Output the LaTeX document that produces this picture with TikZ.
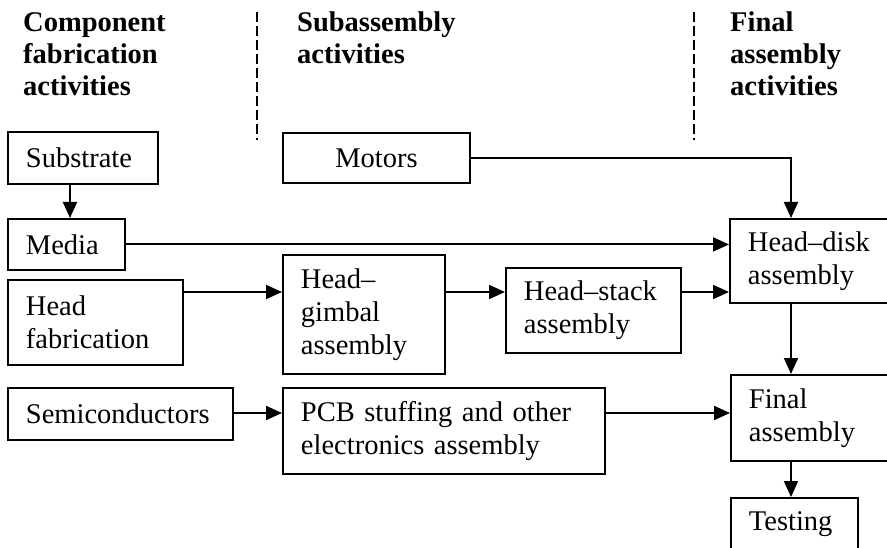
\documentclass[tikz,border=0pt]{standalone}
\usepackage{fontspec}
\setmainfont{Liberation Serif}
\usetikzlibrary{arrows.meta}
\begin{document}
\begin{tikzpicture}[x=1pt,y=-1pt,
  box/.style={draw, line width=1.9pt, rectangle, inner xsep=18pt, inner ysep=0pt,
    align=left, font=\fontsize{28.5}{33}\selectfont, anchor=north west},
  head/.style={inner sep=0pt, align=left, anchor=north west,
    font=\fontsize{28.5}{32}\selectfont\bfseries},
  arr/.style={line width=1.9pt, -{Triangle[length=16pt,width=14pt]}},
  sep/.style={line width=1.3pt, dash pattern=on 10pt off 4pt}]
\useasboundingbox (0,0) rectangle (887,548);
\clip (0,0) rectangle (887,548);
% headers
\node[head] (h1) at (23,12) {Component\\fabrication\\activities};
\node[head] (h2) at (297,12) {Subassembly\\activities};
\node[head] (h3) at (730,12) {Final\\assembly\\activities};
\draw[sep] (257,12) -- (257,140);
\draw[sep] (694,12) -- (694,140);
% boxes
\node[box, minimum width=150pt, minimum height=52pt, text width=114pt] (sub) at (7,131) {Substrate};
\node[box, minimum width=117pt, minimum height=51pt, text width=81pt] (med) at (7,218) {Media};
\node[box, minimum width=175pt, minimum height=85pt, text width=139pt] (hf) at (7,279) {Head\\fabrication};
\node[box, minimum width=225pt, minimum height=52pt, text width=189pt] (semi) at (7,387) {Semiconductors};
\node[box, minimum width=187pt, minimum height=50pt, text width=151pt, align=center] (mot) at (282,132) {Motors};
\node[box, minimum width=162pt, minimum height=119pt, text width=126pt] (hg) at (282,254) {Head–\\gimbal\\assembly};
\node[box, minimum width=175pt, minimum height=85pt, text width=139pt] (hs) at (505,267) {Head–stack\\assembly};
\node[box, minimum width=322pt, minimum height=86pt, text width=286pt] (pcb) at (282,387) {PCB stuffing and other\\electronics assembly};
\node[box, minimum width=170pt, minimum height=84pt, text width=134pt] (hd) at (729,218) {Head–disk\\assembly};
\node[box, minimum width=170pt, minimum height=86pt, text width=134pt] (fa) at (730,374) {Final\\assembly};
\node[box, minimum width=127pt, minimum height=53pt, text width=91pt] (test) at (730,497) {Testing};
% helper coordinates
\coordinate (xa) at (70,0);
\coordinate (xb) at (791,0);
\coordinate (ya) at (0,292);
\coordinate (yb) at (0,413);
% connectors
\draw[arr] (sub.south -| xa) -- (med.north -| xa);
\draw[arr] (mot.east) -| (hd.north -| xb);
\draw[arr] (med.east) -- (med.east -| hd.west);
\draw[arr] (hf.east |- ya) -- (hg.west |- ya);
\draw[arr] (hg.east |- ya) -- (hs.west |- ya);
\draw[arr] (hs.east |- ya) -- (hd.west |- ya);
\draw[arr] (hd.south -| xb) -- (fa.north -| xb);
\draw[arr] (semi.east |- yb) -- (pcb.west |- yb);
\draw[arr] (pcb.east |- yb) -- (fa.west |- yb);
\draw[arr] (fa.south -| xb) -- (test.north -| xb);
\end{tikzpicture}
\end{document}
